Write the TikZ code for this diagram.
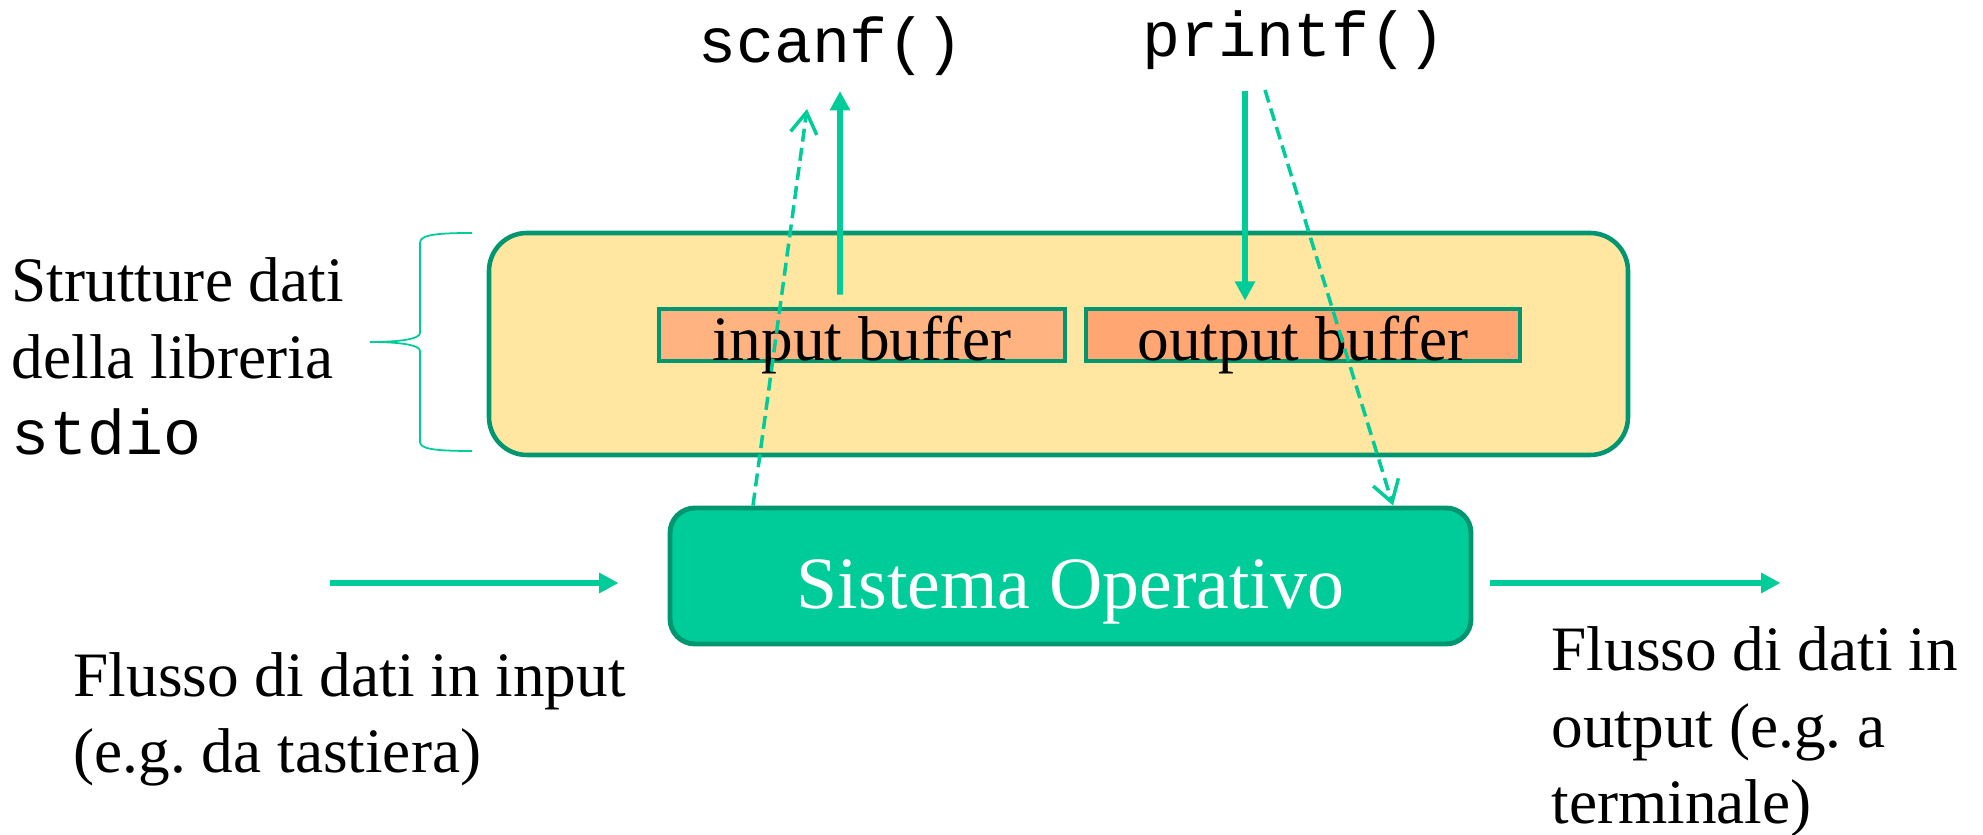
\documentclass[tikz,border=0pt]{standalone}
\usepackage{fontspec}
\setmainfont{Liberation Serif}
\setmonofont{Liberation Mono}
\usetikzlibrary{arrows.meta,calc}
\frenchspacing

\definecolor{osgreen}{HTML}{00CC99}
\definecolor{edgegreen}{HTML}{009670}
\definecolor{libyellow}{HTML}{FFE6A1}
\definecolor{inorange}{HTML}{FFB380}
\definecolor{outorange}{HTML}{FFA673}

\tikzset{
  txt/.style={inner sep=0pt, font=\fontsize{18}{21.8}\selectfont},
  buffer/.style={txt, draw=edgegreen, line width=1.3pt, minimum height=0.52cm,
    text height=0.52cm, text depth=0pt},
  flow/.style={osgreen, line width=1.6pt, -{Triangle[length=5.5pt,width=5.5pt]}},
  dashflow/.style={osgreen, line width=1pt, dash pattern=on 3.7pt off 1.8pt,
    -{Straight Barb[length=6pt,width=7.5pt]}}
}

\begin{document}
\begin{tikzpicture}
        \useasboundingbox (0,0) rectangle (19.83,8.35);
        % library data structures
        \node[draw=edgegreen, line width=1.3pt, fill=libyellow, rounded corners=0.38cm,
          minimum width=11.39cm, minimum height=2.22cm] (lib) at (10.585,4.91) {};
        \node[buffer, fill=inorange, minimum width=4.06cm] (inbuf) at (8.62,5.00) {input buffer};
        \node[buffer, fill=outorange, minimum width=4.34cm] (outbuf) at (13.03,5.00) {output buffer};
        \node[draw=edgegreen, line width=1.4pt, fill=osgreen, rounded corners=0.25cm,
          minimum width=8.01cm, minimum height=1.36cm, text=white,
          font=\fontsize{21}{25}\selectfont, text height=0.8cm, text depth=0.14cm] (os) at (10.705,2.59) {Sistema Operativo};
        % labels
        \node[txt, font=\fontsize{18}{21.8}\ttfamily, anchor=base] (scanf) at (8.31,7.72) {scanf()};
        \node[txt, font=\fontsize{18}{21.8}\ttfamily, anchor=base] (printf) at (12.94,7.78) {printf()};
        \node[txt, align=left, anchor=base west] (stdlib) at (0.11,3.80) {Strutture dati\\della libreria\\\texttt{stdio}};
        \node[txt, align=left, anchor=base west] (inlbl) at (0.73,0.62) {Flusso di dati in input\\(e.g. da tastiera)};
        \node[txt, align=left, anchor=base west] (outlbl) at (15.51,0.11) {Flusso di dati in\\output (e.g. a\\terminale)};
        % brace
        \draw[osgreen, line width=0.5pt] (4.72,6.02) .. controls (4.35,6.02) and (4.20,6.00) .. (4.20,5.92)
          -- (4.20,5.02) .. controls (4.20,4.96) and (4.00,4.93) .. (3.70,4.93)
          .. controls (4.00,4.93) and (4.20,4.90) .. (4.20,4.84)
          -- (4.20,3.93) .. controls (4.20,3.86) and (4.35,3.84) .. (4.72,3.84);
        % calls
        \draw[flow] ($(inbuf.north)+(-0.22,0.12)$) -- ($(scanf.base)+(0.09,-0.28)$);
        \draw[flow] ($(printf.base)+(-0.49,-0.34)$) -- ($(outbuf.north)+(-0.58,0.06)$);
        \draw[dashflow] ($(os.north)+(-3.175,0)$) -- ($(scanf.base)+(-0.24,-0.46)$);
        \draw[dashflow] ($(printf.base)+(-0.29,-0.33)$) -- ($(os.north)+(3.225,0)$);
        % streams
        \draw[flow] ($(os.west)+(-3.38,-0.07)$) -- ($(os.west)+(-0.49,-0.07)$);
        \draw[flow] ($(os.east)+(0.17,-0.07)$) -- ($(os.east)+(3.07,-0.07)$);
\end{tikzpicture}
\end{document}
